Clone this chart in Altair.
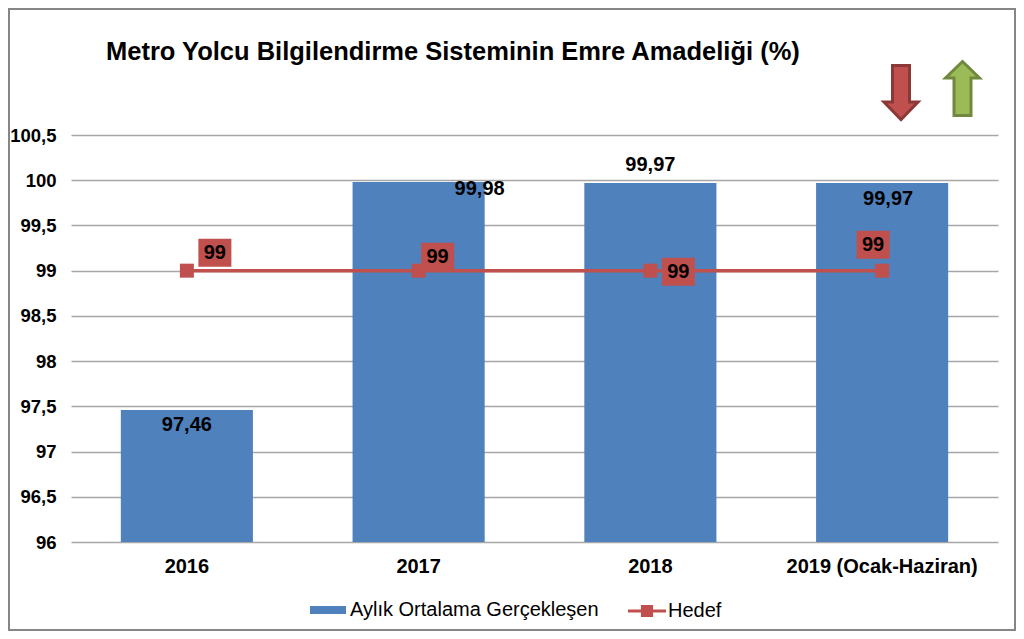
import altair as alt
import pandas as pd

categories = ["2016", "2017", "2018", "2019 (Ocak-Haziran)"]
actual = [97.46, 99.98, 99.97, 99.97]
target = [99, 99, 99, 99]
actual_labels = ["97,46", "99,98", "99,97", "99,97"]
target_labels = ["99", "99", "99", "99"]
y_ticks = [96, 96.5, 97, 97.5, 98, 98.5, 99, 99.5, 100, 100.5]
title_text = "Metro Yolcu Bilgilendirme Sisteminin Emre Amadeliği (%)"
bar_name = "Aylık Ortalama Gerçekleşen"
line_name = "Hedef"

# label placement relative to the data point (pixels)
actual_offsets = [(0, 15), (61, 7), (0, -18), (6, 16)]
target_offsets = [(28, -18), (19, -14), (28, 1), (-9, -26)]

BLUE, RED, GREEN = "#4F81BD", "#C0504D", "#9BBB59"
FONT = "Liberation Sans"

df = pd.DataFrame({"cat": categories, "actual": actual, "target": target,
                   "alab": actual_labels, "tlab": target_labels})

W, H = 927, 407
PL, PT = 63, 127

x = alt.X("cat:N", sort=categories, title=None,
          scale=alt.Scale(paddingInner=0.43, paddingOuter=0.215),
          axis=alt.Axis(labelAngle=0, labelFontSize=20, labelFontWeight="bold", labelColor="#000",
                        labelFont=FONT, labelPadding=14, ticks=False, domain=False, grid=False,
                        labelLimit=400))
y_scale = alt.Scale(domain=[96, 100.5], nice=False, zero=False)
y_axis = alt.Axis(values=y_ticks, labelExpr="replace('' + datum.value, '.', ',')",
                  labelFontSize=18.5, labelFontWeight="bold", labelColor="#000", labelFont=FONT,
                  labelPadding=15, ticks=False, domain=False, grid=True,
                  gridColor="#A6A6A6", gridWidth=1.3, labelOverlap=False)
y = alt.Y("actual:Q", title=None, scale=y_scale, axis=y_axis)
yt = alt.Y("target:Q", title=None, scale=y_scale, axis=y_axis)

SYMBOL_BAR = "M-1,-0.22H1V0.22H-1Z"
SYMBOL_LINE = "M-1,-0.08H-0.32V-0.32H0.32V-0.08H1V0.08H0.32V0.32H-0.32V0.08H-1Z"

bars = alt.Chart(df).mark_bar(clip=True).encode(
    x=x, y=y,
    fill=alt.Fill("series:N", scale=alt.Scale(domain=[bar_name], range=[BLUE]),
                  legend=alt.Legend(title=None, orient="none", legendX=239, legendY=457,
                                    symbolType=SYMBOL_BAR, symbolSize=1296, symbolStrokeWidth=0,
                                    labelFontSize=20, labelFont=FONT, labelColor="#000",
                                    labelOffset=4, labelLimit=400)),
).transform_calculate(series=f"'{bar_name}'")

line = alt.Chart(df).mark_line(strokeWidth=3.5).encode(
    x=x, y=yt,
    stroke=alt.Stroke("series:N", scale=alt.Scale(domain=[line_name], range=[RED]),
                      legend=alt.Legend(title=None, orient="none", legendX=557, legendY=457,
                                        symbolType=SYMBOL_LINE, symbolSize=1444, symbolStrokeWidth=0,
                                        symbolFillColor=RED,
                                        labelFontSize=20, labelFont=FONT, labelColor="#000",
                                        labelOffset=2)),
).transform_calculate(series=f"'{line_name}'")

markers = alt.Chart(df).mark_point(shape="M-1,-1H1V1H-1Z", size=196, filled=True, opacity=1,
                                   color=RED).encode(x=x, y=yt)

layers = [bars, line, markers]

for cat, lab, (dx, dy) in zip(categories, actual_labels, actual_offsets):
    layers.append(alt.Chart(df).transform_filter(alt.datum.cat == cat).mark_text(
        font=FONT, fontSize=20, fontWeight="bold", color="#000", baseline="middle",
        xOffset=dx, yOffset=dy).encode(x=x, y=y, text="alab:N"))

for cat, (dx, dy) in zip(categories, target_offsets):
    sub = alt.Chart(df).transform_filter(alt.datum.cat == cat)
    layers.append(sub.mark_point(shape="M-16.5,-14H16.5V14H-16.5Z", size=4, filled=True, opacity=1,
                                 color=RED, xOffset=dx, yOffset=dy).encode(x=x, y=yt))
    layers.append(sub.mark_text(font=FONT, fontSize=20, fontWeight="bold", color="#000",
                                baseline="middle", xOffset=dx, yOffset=dy).encode(x=x, y=yt, text="tlab:N"))

# title, indicator arrows and frame
DOWN = "M-8.5,-27.5H8.5V9H17L0,26.5L-17,9H-8.5Z"
UP = "M-8.5,27.5H8.5V-10H17L0,-26.5L-17,-10H-8.5Z"
anchor = alt.Chart(pd.DataFrame({"a": [0], "t": [title_text]}))
layers.append(anchor.mark_text(font=FONT, fontSize=25.5, fontWeight="bold", color="#000", align="left",
                               baseline="alphabetic").encode(x=alt.value(35), y=alt.value(-75), text="t:N"))
layers.append(anchor.mark_point(shape=DOWN, size=4, filled=True, opacity=1, fill=RED, stroke="#8C3836",
                                strokeWidth=3).encode(x=alt.value(830), y=alt.value(-42)))
layers.append(anchor.mark_point(shape=UP, size=4, filled=True, opacity=1, fill=GREEN, stroke="#71893F",
                                strokeWidth=3).encode(x=alt.value(891.5), y=alt.value(-47)))
layers.append(anchor.mark_rect(fillOpacity=0, stroke="#868686", strokeWidth=2).encode(
    x=alt.value(-62), x2=alt.value(W + 17), y=alt.value(-126), y2=alt.value(H + 88)))

chart = alt.layer(*layers).resolve_scale(color="independent", fill="independent", stroke="independent").properties(
    width=W, height=H,
    padding={"left": PL, "top": PT, "right": 18, "bottom": 89},
    autosize=alt.AutoSizeParams(type="none"),
    background="white",
).configure_view(stroke=None)

chart.save("out.html", embed_options={"renderer": "svg", "actions": False})
